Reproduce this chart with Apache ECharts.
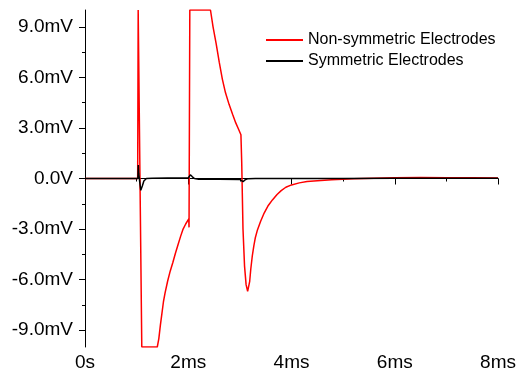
<!DOCTYPE html>
<html><head><meta charset="utf-8">
<script src="https://cdn.jsdelivr.net/npm/echarts@6/dist/echarts.min.js"></script>
<style>html,body{margin:0;padding:0;background:#fff}#c{width:519px;height:379px}</style>
</head><body><div id="c"></div>
<script>
// time in ms, voltage in mV
const seriesNames = ['Non-symmetric Electrodes', 'Symmetric Electrodes'];
const nonSymmetric = [[0,0],[1.02,0],[1.03,10],[1.04,10],[1.10,-10],[1.40,-10],[1.43,-9.5],[1.46,-8.7],[1.49,-8.0],[1.52,-7.3],[1.55,-6.8],[1.60,-6.1],[1.65,-5.5],[1.70,-5.0],[1.75,-4.45],[1.80,-3.95],[1.85,-3.45],[1.90,-3.0],[1.95,-2.7],[2.01,-2.4],[2.015,-2.9],[2.03,10],[2.43,10],[2.48,9.0],[2.54,8.0],[2.60,6.9],[2.66,5.9],[2.72,5.1],[2.79,4.4],[2.86,3.8],[2.92,3.3],[2.97,2.95],[3.02,2.6],[3.035,1.0],[3.06,-3.0],[3.09,-5.2],[3.12,-6.3],[3.15,-6.7],[3.17,-6.6],[3.19,-6.1],[3.21,-5.4],[3.24,-4.6],[3.27,-4.0],[3.30,-3.5],[3.34,-3.05],[3.40,-2.55],[3.47,-2.05],[3.55,-1.6],[3.63,-1.27],[3.72,-0.95],[3.80,-0.72],[3.89,-0.52],[4.0,-0.38],[4.15,-0.26],[4.3,-0.18],[4.5,-0.13],[4.78,-0.08],[5.2,-0.02],[5.6,0.02],[6.0,0.05],[6.5,0.06],[7.0,0.05],[7.5,0.04],[8.0,0.03]];
const symmetric = [[0,0],[1.025,0],[1.033,0.8],[1.04,0.3],[1.08,-0.7],[1.11,-0.45],[1.14,-0.15],[1.19,0.0],[1.3,0.02],[1.6,0.03],[2.0,0.03],[2.02,0.05],[2.04,0.22],[2.08,0.1],[2.12,0.0],[2.2,-0.04],[2.6,-0.05],[3.0,-0.06],[3.03,-0.12],[3.06,-0.19],[3.1,-0.08],[3.16,-0.01],[3.3,0.0],[4,0.0],[5,0.0],[6,0.02],[7,0.02],[8,0.02]];
const yTickValues = [-9,-6,-3,0,3,6,9];
const yMinorValues = [-7.5,-4.5,-1.5,1.5,4.5,7.5];

const chart = echarts.init(document.getElementById('c'));
const font = 'Liberation Sans, Arial, sans-serif';
chart.setOption({
  animation: false,
  backgroundColor: '#fff',
  grid: {left: 85, right: 19, top: 10, bottom: 32},
  legend: {
    orient: 'vertical', left: 265, top: 32, padding: 0, itemWidth: 37, itemHeight: 14, itemGap: 5,
    itemStyle: {opacity: 0},
    textStyle: {fontFamily: font, fontSize: 16, color: '#000'},
    data: seriesNames
  },
  xAxis: {
    type: 'value', min: 0, max: 8, interval: 2,
    axisLine: {lineStyle: {color: '#000', width: 1}},
    axisTick: {inside: false, length: 6, lineStyle: {color: '#000'}},
    minorTick: {show: true, splitNumber: 2, length: 3, lineStyle: {color: '#000'}},
    splitLine: {show: false},
    axisLabel: {fontFamily: font, fontSize: 19, color: '#000', margin: 6,
      formatter: v => v === 0 ? '0s' : v + 'ms'}
  },
  yAxis: [{
    type: 'value', min: -10, max: 10,
    axisLine: {show: true, lineStyle: {color: '#000', width: 1}},
    axisTick: {show: true, inside: false, length: 6, customValues: yTickValues, lineStyle: {color: '#000'}},
    splitLine: {show: false},
    axisLabel: {fontFamily: font, fontSize: 19, color: '#000', margin: 12, customValues: yTickValues,
      formatter: v => v === 0 ? '0.0V' : v.toFixed(1) + 'mV'}
  }, {
    type: 'value', min: -10, max: 10, position: 'left',
    axisLine: {show: false},
    axisTick: {show: true, inside: false, length: 3, customValues: yMinorValues, lineStyle: {color: '#000'}},
    axisLabel: {show: false},
    splitLine: {show: false}
  }],
  series: [
    {name: seriesNames[0], type: 'line', data: nonSymmetric, symbol: 'none', yAxisIndex: 0,
      lineStyle: {color: '#ff0000', width: 1.5}, itemStyle: {color: '#ff0000'}},
    {name: seriesNames[1], type: 'line', data: symmetric, symbol: 'none', yAxisIndex: 0,
      lineStyle: {color: '#000000', width: 1.5}, itemStyle: {color: '#000000'}}
  ]
});
</script></body></html>
